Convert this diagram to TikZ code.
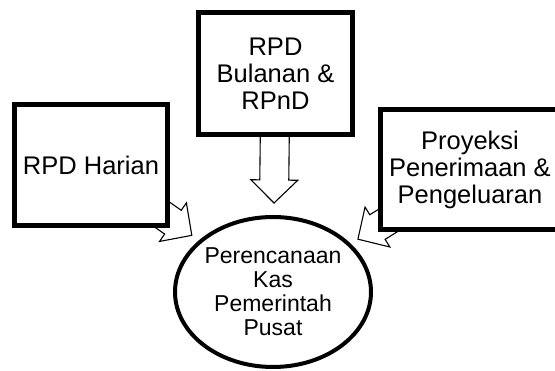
\documentclass[tikz,border=0pt]{standalone}
\usepackage{fontspec}
\setmainfont{Liberation Sans}
\usetikzlibrary{shapes.geometric,calc,backgrounds}
\tikzset{
  boxnode/.style={draw=black, fill=white, line width=5pt, rectangle, inner sep=0pt, align=center,
    font=\fontsize{25.5}{27}\selectfont},
  ellnode/.style={draw=black, fill=white, line width=4pt, ellipse, inner sep=0pt, align=center,
    minimum width=196pt, minimum height=150pt, font=\fontsize{23}{24}\selectfont},
  blockarrow/.style={draw=black, fill=white, line width=1.1pt, line join=miter}
}
\newcommand{\blockarr}[3]{% #1 from node, #2 to node, #3 tip distance from target centre
  \coordinate (T) at ($(#2.center)!#3!(#1.center)$);
  \coordinate (H) at ($(T)!23pt!(#1.center)$);
  \coordinate (S) at ($(T)!80pt!(#1.center)$);
  \draw[blockarrow] (T) -- ($(H)!23.5pt!90:(#1.center)$) -- ($(H)!14.5pt!90:(#1.center)$)
    -- ($(S)!14.5pt!90:(#1.center)$) -- ($(S)!14.5pt!-90:(#1.center)$)
    -- ($(H)!14.5pt!-90:(#1.center)$) -- ($(H)!23.5pt!-90:(#1.center)$) -- cycle;
}
\begin{document}
\begin{tikzpicture}[x=1pt,y=1pt]
\useasboundingbox (0,0) rectangle (555,371);
\clip (0,0) rectangle (555,371);
\node[boxnode, minimum width=153pt, minimum height=121pt] (harian) at (91,206) {RPD Harian};
\node[boxnode, minimum width=154pt, minimum height=122pt] (bulanan) at (275.5,297.5) {RPD\\Bulanan \&\\RPnD};
\node[boxnode, minimum width=179pt, minimum height=120pt] (proyeksi) at (470,201.5) {Proyeksi\\Penerimaan \&\\Pengeluaran};
\node[ellnode] (kas) at (273,79) {Perencanaan\\Kas\\Pemerintah\\Pusat};
\begin{pgfonlayer}{background}
\fill[white] (0,0) rectangle (555,371);
\blockarr{harian}{kas}{99pt}
\blockarr{bulanan}{kas}{89pt}
\blockarr{proyeksi}{kas}{100pt}
\end{pgfonlayer}
\end{tikzpicture}
\end{document}
